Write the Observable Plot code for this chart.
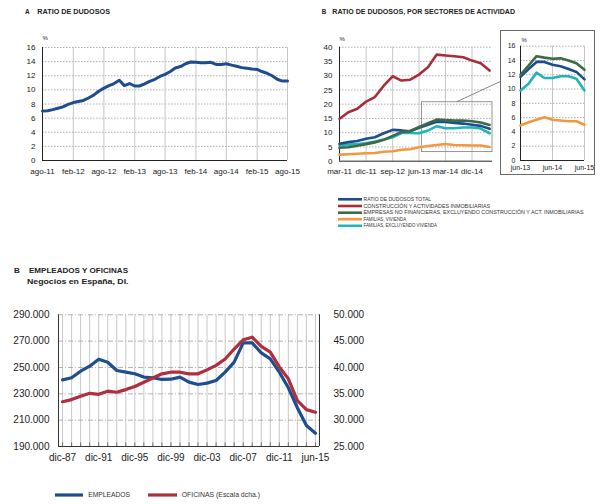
<!DOCTYPE html>
<html><head><meta charset="utf-8">
<script src="https://cdn.jsdelivr.net/npm/d3@7"></script>
<script src="https://cdn.jsdelivr.net/npm/@observablehq/plot@0.6"></script>
<style>
body{margin:0;background:#fff}
#root{position:relative;width:606px;height:504px;overflow:hidden;font-family:"Liberation Sans",Arial,sans-serif}
</style></head>
<body><div id="root"></div>
<script>
// ---------- DATA ----------
// Panel A: monthly ratio de dudosos total, ago-11 .. ago-15
const ratioStart = "ago-11";
const ratioTotal = [7.0,7.05,7.2,7.4,7.6,7.95,8.2,8.35,8.5,8.85,9.25,9.8,10.25,10.6,10.9,11.35,10.6,10.9,10.55,10.55,10.85,11.2,11.5,11.9,12.2,12.6,13.1,13.3,13.7,13.95,13.9,13.85,13.85,13.9,13.6,13.6,13.7,13.5,13.35,13.15,13.05,12.95,12.9,12.6,12.35,12.0,11.5,11.25,11.25];
const aTickLabels = ["ago-11","feb-12","ago-12","feb-13","ago-13","feb-14","ago-14","feb-15","ago-15"];
const aYTicks = [0,2,4,6,8,10,12,14,16];

// Panel B: quarterly by sector
const bQuarters = ["mar-11","jun-11","sep-11","dic-11","mar-12","jun-12","sep-12","dic-12","mar-13","jun-13","sep-13","dic-13","mar-14","jun-14","sep-14","dic-14","mar-15","jun-15"];
const bTotal        = [6.1,6.7,7.1,7.9,8.4,9.8,11.0,10.8,10.5,11.7,12.8,13.8,13.8,13.4,13.2,12.8,12.4,11.35];
const bConstruccion = [14.9,17.2,18.4,20.9,22.5,26.5,29.8,28.3,28.6,30.4,33.0,37.4,37.1,36.8,36.5,35.3,34.4,31.8];
const bEmpresas     = [4.7,4.9,5.4,6.0,6.6,7.5,8.9,10.2,10.6,12.0,13.3,14.6,14.4,14.25,14.3,14.0,13.6,12.7];
const bVivienda     = [2.3,2.45,2.6,2.8,2.9,3.3,3.5,4.0,4.2,4.9,5.35,5.7,6.05,5.7,5.6,5.5,5.5,5.0];
const bFamExcl      = [5.5,5.8,6.0,6.3,6.9,7.6,8.4,9.9,9.9,9.8,10.75,12.3,11.55,11.55,11.8,11.8,11.45,9.8];
const bNames = ["RATIO DE DUDOSOS TOTAL","CONSTRUCCIÓN Y ACTIVIDADES INMOBILIARIAS","EMPRESAS NO FINANCIERAS, EXCLUYENDO CONSTRUCCIÓN Y ACT. INMOBILIARIAS","FAMILIAS, VIVIENDA","FAMILIAS, EXCLUYENDO VIVIENDA"];
const bColors = ["#1e4c90","#a82d38","#3b6a46","#f2983f","#22b4b6"];
const bTickLabels = ["mar-11","dic-11","sep-12","jun-13","mar-14","dic-14"];
const bYTicks = [0,5,10,15,20,25,30,35,40];
const insetTickLabels = ["jun-13","jun-14","jun-15"];
const insetYTicks = [0,2,4,6,8,10,12,14,16];
const zoomBox = {from:"jul-13", to:"jul-15", low:3.2, high:20.7};

// Bottom panel: employees & offices, annual
const periods = ["dic-87","dic-88","dic-89","dic-90","dic-91","dic-92","dic-93","dic-94","dic-95","dic-96","dic-97","dic-98","dic-99","dic-00","dic-01","dic-02","dic-03","dic-04","dic-05","dic-06","dic-07","dic-08","dic-09","dic-10","dic-11","dic-12","dic-13","dic-14","jun-15"];
const empleados = [240600,242200,247200,251000,256300,254000,247700,246500,245200,242700,242200,240900,241100,242700,238900,237100,238100,240100,246500,254100,268700,268700,261100,256600,246500,234600,219400,206000,200100];
const oficinas  = [33500,33900,34550,35100,34900,35500,35300,35800,36400,37200,38000,38800,39100,39100,38800,38800,39550,40400,41600,43500,45250,45750,44000,42900,40100,37850,33700,32000,31500];
const bottomTickLabels = ["dic-87","dic-91","dic-95","dic-99","dic-03","dic-07","dic-11","jun-15"];
const leftTicks = [190000,210000,230000,250000,270000,290000];
const rightTicks = [25000,30000,35000,40000,45000,50000];

// ---------- HELPERS ----------
const MES = ["ene","feb","mar","abr","may","jun","jul","ago","sep","oct","nov","dic"];
function parseMes(s){const [m,y]=s.split("-");return new Date(Date.UTC(2000+(+y),MES.indexOf(m),1));}
const esLocale = d3.formatLocale({decimal:",",thousands:".",grouping:[3],currency:["","€"]});
const fmtThousands = esLocale.format(",d");
const root = document.getElementById("root");
const FONT = "Liberation Sans, Arial, sans-serif";
const baseStyle = (fs)=>({background:"transparent",fontFamily:FONT,fontSize:fs,color:"#222",overflow:"visible"});
function place(el,left,top){el.style.position="absolute";el.style.left=left+"px";el.style.top=top+"px";root.appendChild(el);return el;}
const AXIS = "#222";

// ---------- PANEL A ----------
const a0 = parseMes(ratioStart);
const aData = ratioTotal.map((v,i)=>({date:d3.utcMonth.offset(a0,i),value:v}));
const aTicks = aTickLabels.map(parseMes);
const aLab = new Map(aTicks.map((d,i)=>[+d,aTickLabels[i]]));
const plotA = Plot.plot({
  width:300,height:150,marginLeft:42,marginRight:13,marginTop:17,marginBottom:20,
  style:baseStyle("8px"),
  x:{type:"utc",domain:[aTicks[0],aTicks[aTicks.length-1]],label:null},
  y:{domain:[0,16],label:null},
  marks:[
    Plot.gridY(aYTicks.slice(1),{stroke:"#9a9a9a",strokeOpacity:1,strokeDasharray:"1.5,1.5",strokeWidth:0.8}),
    Plot.gridX(aTicks.slice(1),{stroke:"#c6c6c6",strokeOpacity:1,strokeWidth:1}),
    Plot.axisX(aTicks,{tickSize:0,tickPadding:8,label:null,tickFormat:d=>aLab.get(+d)}),
    Plot.axisY(aYTicks,{tickSize:0,tickPadding:7,label:null}),
    Plot.ruleX([aTicks[0]],{stroke:AXIS}),
    Plot.ruleY([0],{stroke:AXIS}),
    Plot.lineY(aData,{x:"date",y:"value",stroke:bColors[0],strokeWidth:3}),
    Plot.text(["%"],{text:d=>d,frameAnchor:"top-left",dy:-9,textAnchor:"start",lineAnchor:"middle",fontSize:6})
  ]
});
place(plotA,0,30);

// ---------- PANEL B main ----------
const qDates = bQuarters.map(parseMes);
const bSeries = [bTotal,bConstruccion,bEmpresas,bVivienda,bFamExcl];
const bLong = [];
bSeries.forEach((vals,s)=>vals.forEach((v,i)=>bLong.push({date:qDates[i],value:v,serie:bNames[s]})));
const bTicks = bTickLabels.map(parseMes);
const bLab = new Map(bTicks.map((d,i)=>[+d,bTickLabels[i]]));
const drawOrder = [3,4,0,2,1];
const lineMarks = (data)=>drawOrder.map(s=>Plot.lineY(data.filter(d=>d.serie===bNames[s]),{x:"date",y:"value",stroke:bColors[s],strokeWidth:2.6}));
const zb = {x1:parseMes(zoomBox.from),x2:parseMes(zoomBox.to),y1:zoomBox.low,y2:zoomBox.high};
const plotB = Plot.plot({
  width:200,height:150,marginLeft:39,marginRight:8,marginTop:16.7,marginBottom:19.3,
  style:baseStyle("8px"),
  x:{type:"utc",domain:[qDates[0],d3.utcMonth.offset(qDates[qDates.length-1],1)],label:null},
  y:{domain:[0,40],label:null},
  marks:[
    Plot.gridY(bYTicks.slice(1),{stroke:"#9a9a9a",strokeOpacity:1,strokeDasharray:"1.5,1.5",strokeWidth:0.8}),
    Plot.gridX(bTicks.slice(1),{stroke:"#c6c6c6",strokeOpacity:1,strokeWidth:1}),
    Plot.axisX(bTicks,{tickSize:0,tickPadding:7,label:null,tickFormat:d=>bLab.get(+d)}),
    Plot.axisY(bYTicks,{tickSize:0,tickPadding:7,label:null}),
    Plot.ruleX([qDates[0]],{stroke:AXIS}),
    Plot.ruleY([0],{stroke:AXIS}),
    Plot.rect([zb],{x1:"x1",x2:"x2",y1:"y1",y2:"y2",fill:"none",stroke:"#8a8a8a",strokeWidth:0.9}),
    ...lineMarks(bLong),
    Plot.text(["%"],{text:d=>d,frameAnchor:"top-left",dy:-8,textAnchor:"start",lineAnchor:"middle",fontSize:6})
  ]
});
place(plotB,300,30);

// ---------- PANEL B inset ----------
const insetTicks = insetTickLabels.map(parseMes);
const iLab = new Map(insetTicks.map((d,i)=>[+d,insetTickLabels[i]]));
const insetData = bLong.filter(d=>d.date>=insetTicks[0]);
const plotI = Plot.plot({
  width:95,height:145,marginLeft:20,marginRight:11,marginTop:15.7,marginBottom:15,
  style:baseStyle("7px"),
  x:{type:"utc",domain:[insetTicks[0],insetTicks[insetTicks.length-1]],label:null},
  y:{domain:[0,16],label:null},
  marks:[
    Plot.gridY(insetYTicks.slice(1),{stroke:"#9a9a9a",strokeOpacity:1,strokeDasharray:"1.5,1.5",strokeWidth:0.8}),
    Plot.gridX(insetTicks.slice(1),{stroke:"#c6c6c6",strokeOpacity:1,strokeWidth:1}),
    Plot.axisX(insetTicks,{tickSize:0,tickPadding:5,label:null,tickFormat:d=>iLab.get(+d)}),
    Plot.axisY(insetYTicks,{tickSize:0,tickPadding:5,label:null}),
    Plot.ruleX([insetTicks[0]],{stroke:AXIS}),
    Plot.ruleY([0],{stroke:AXIS}),
    ...lineMarks(insetData),
    Plot.text(["%"],{text:d=>d,frameAnchor:"top-left",dy:-6,dx:1,textAnchor:"start",lineAnchor:"middle",fontSize:6})
  ]
});
place(plotI,500,30);

// ---------- BOTTOM PANEL ----------
const idx = d3.range(periods.length);
const bottomIdx = bottomTickLabels.map(l=>periods.indexOf(l));
const empData = empleados.map((v,i)=>({i,v}));
const ofiData = oficinas.map((v,i)=>({i,v}));
const xDom = [-0.45,periods.length-1+0.45];
const bottomOpts = {width:370,height:160,marginLeft:58,marginRight:51,marginTop:14.3,marginBottom:14};
const plotE = Plot.plot({
  ...bottomOpts,
  style:baseStyle("10px"),
  x:{domain:xDom,label:null},
  y:{domain:[190000,290000],label:null},
  marks:[
    Plot.gridX(idx,{stroke:"#c8c8c8",strokeOpacity:1,strokeWidth:1}),
    Plot.gridY(leftTicks.slice(1),{stroke:"#a0a0a0",strokeOpacity:1,strokeDasharray:"5,2,1,2",strokeWidth:0.8}),
    Plot.ruleX(idx,{x:d=>d,y1:()=>190000,y2:()=>192700,stroke:"#555",strokeWidth:0.8}),
    Plot.axisX(bottomIdx,{tickSize:0,tickPadding:7,label:null,tickFormat:i=>periods[i]}),
    Plot.axisY(leftTicks,{tickSize:0,tickPadding:9,label:null,tickFormat:fmtThousands}),
    Plot.ruleX([xDom[0]],{stroke:"#333"}),
    Plot.ruleY([190000],{stroke:"#333"}),
    Plot.lineY(empData,{x:"i",y:"v",stroke:"#1f4e8e",strokeWidth:3.2})
  ]
});
place(plotE,0,300);
const plotO = Plot.plot({
  ...bottomOpts,
  style:baseStyle("10px"),
  x:{domain:xDom,axis:null},
  y:{domain:[25000,50000],label:null},
  marks:[
    Plot.axisY(rightTicks,{anchor:"right",tickSize:0,tickPadding:14,label:null,tickFormat:fmtThousands}),
    Plot.ruleX([xDom[1]],{stroke:"#333"}),
    Plot.lineY(ofiData,{x:"i",y:"v",stroke:"#ae2f3d",strokeWidth:3.2})
  ]
});
place(plotO,0,300);

// ---------- OVERLAY: titles, legends, inset frame, connector ----------
const ov = d3.select(root).append("svg").attr("width",606).attr("height",504)
  .style("position","absolute").style("left","0px").style("top","0px").style("pointer-events","none")
  .attr("font-family",FONT);
function txt(x,y,s,fs,opts={}){
  const t = ov.append("text").attr("x",x).attr("y",y).attr("dominant-baseline","middle")
    .attr("font-size",fs).attr("fill",opts.fill||"#222").attr("font-weight",opts.bold?"bold":"normal").text(s);
  if(opts.len) t.attr("textLength",opts.len).attr("lengthAdjust","spacingAndGlyphs");
  return t;
}
// titles
txt(25,12,"A",6.5,{bold:true});
txt(37.3,12,"RATIO DE  DUDOSOS",6.5,{bold:true,len:72.7});
txt(321.7,12,"B",6.3,{bold:true});
txt(332.3,12,"RATIO DE DUDOSOS, POR SECTORES DE ACTIVIDAD",6.3,{bold:true,len:182.7});
txt(14,270.7,"B",8,{bold:true});
txt(29,270.7,"EMPLEADOS Y OFICINAS",8,{bold:true,len:99});
txt(27,281.7,"Negocios en España, DI.",8,{bold:true,len:101.5});

// inset frame + connector
ov.append("rect").attr("x",500.5).attr("y",30.5).attr("width",94).attr("height",144)
  .attr("fill","none").attr("stroke","#6a6a6a").attr("stroke-width",1);
const bx = plotB.scale("x"), by = plotB.scale("y"), iy = plotI.scale("y");
const midDate = new Date((+zb.x1 + +zb.x2)/2);
ov.append("line").attr("x1",300+bx.apply(midDate)).attr("y1",30+by.apply(zb.y2))
  .attr("x2",500.5).attr("y2",30+iy.apply(11))
  .attr("stroke","#6a6a6a").attr("stroke-width",0.8);

// legend B top
const legLens = [67.7,126.7,220,42.7,73.3];
const legY = [199.3,206,212.7,219.2,225.8];
bNames.forEach((n,k)=>{
  ov.append("line").attr("x1",338).attr("x2",362).attr("y1",legY[k]).attr("y2",legY[k])
    .attr("stroke",bColors[k]).attr("stroke-width",2.6);
  txt(363.5,legY[k]+0.3,n,4.8,{fill:"#333",len:legLens[k]});
});

// legend bottom
ov.append("line").attr("x1",55).attr("x2",83).attr("y1",495).attr("y2",495).attr("stroke","#1f4e8e").attr("stroke-width",3.2);
txt(88.3,495.5,"EMPLEADOS",6.3,{fill:"#333",len:41.7});
ov.append("line").attr("x1",148).attr("x2",177).attr("y1",495).attr("y2",495).attr("stroke","#ae2f3d").attr("stroke-width",3.2);
txt(181.7,495.5,"OFICINAS (Escala dcha.)",6.3,{fill:"#333",len:78.3});
</script>
</body></html>
